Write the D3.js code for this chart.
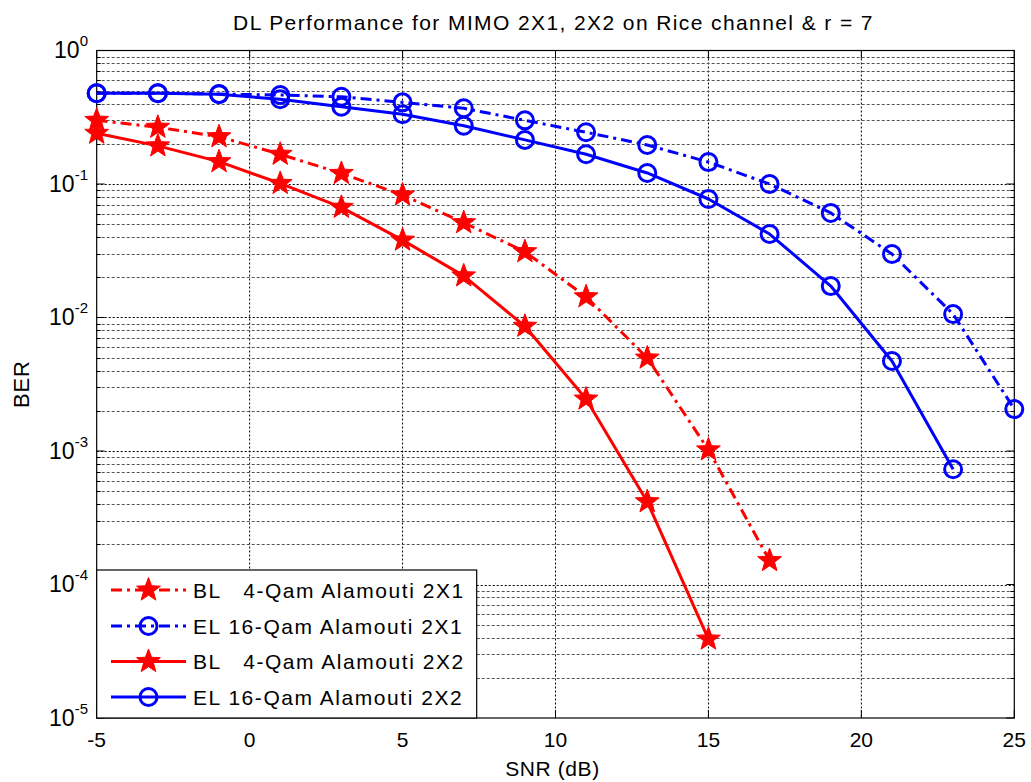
<!DOCTYPE html>
<html>
<head>
<meta charset="utf-8">
<script src="https://cdn.jsdelivr.net/npm/d3@7"></script>
<style>
  html, body { margin: 0; padding: 0; background: #fff; }
  svg { display: block; font-family: "Liberation Sans", Arial, Helvetica, sans-serif; }
  text { white-space: pre; }
</style>
</head>
<body>
<svg id="chart" width="1031" height="782"></svg>
<script>
// SNR sweep (dB)
const snr = [-5, -3, -1, 1, 3, 5, 7, 9, 11, 13, 15, 17, 19, 21, 23, 25];

// Bit error rates per scheme
const berBL_2x1 = [0.30, 0.266, 0.226, 0.167, 0.12, 0.0827, 0.0513, 0.0311, 0.0143, 0.00497, 0.00102, 0.000151];
const berEL_2x1 = [0.478, 0.478, 0.472, 0.464, 0.45, 0.409, 0.369, 0.30, 0.244, 0.196, 0.146, 0.10, 0.0607, 0.0299, 0.0106, 0.00206];
const berBL_2x2 = [0.24, 0.193, 0.147, 0.101, 0.0669, 0.038, 0.0205, 0.0086, 0.00245, 0.000417, 0.000039];
const berEL_2x2 = [0.478, 0.478, 0.47, 0.431, 0.379, 0.333, 0.273, 0.214, 0.167, 0.121, 0.0772, 0.0422, 0.0172, 0.00472, 0.00073];

const seriesNames = [
  "BL   4-Qam Alamouti 2X1",
  "EL 16-Qam Alamouti 2X1",
  "BL   4-Qam Alamouti 2X2",
  "EL 16-Qam Alamouti 2X2"
];

const xTicks = [-5, 0, 5, 10, 15, 20, 25];
const yDecades = [0, -1, -2, -3, -4, -5];

const titleText = "DL Performance for MIMO 2X1, 2X2 on Rice channel & r = 7";
const xLabel = "SNR (dB)";
const yLabel = "BER";

const series = [
  { name: seriesNames[0], y: berBL_2x1, color: "#ff0000", marker: "star", dash: true },
  { name: seriesNames[1], y: berEL_2x1, color: "#0000ff", marker: "circle", dash: true },
  { name: seriesNames[2], y: berBL_2x2, color: "#ff0000", marker: "star", dash: false },
  { name: seriesNames[3], y: berEL_2x2, color: "#0000ff", marker: "circle", dash: false }
];

const svg = d3.select("#chart");
const L = 96.7, R = 1014.3, T = 50.5, B = 718;

const x = d3.scaleLinear().domain([-5, 25]).range([L, R]);
const y = d3.scaleLog().domain([1e-5, 1]).range([B, T]);

const DASHDOT = "11,5,3,5";

// grid
const grid = svg.append("g");
grid.selectAll("line.vx").data(xTicks.slice(1, -1)).join("line")
  .attr("x1", d => x(d)).attr("x2", d => x(d)).attr("y1", T).attr("y2", B)
  .attr("stroke", "#000").attr("stroke-width", 1).attr("stroke-dasharray", "2,2");

const minorVals = [];
for (let e = -5; e < 0; e++) for (let m = 2; m <= 9; m++) minorVals.push(m * Math.pow(10, e));
grid.selectAll("line.hm").data(minorVals).join("line")
  .attr("x1", L).attr("x2", R)
  .attr("y1", d => Math.round(y(d)) + 0.5).attr("y2", d => Math.round(y(d)) + 0.5)
  .attr("stroke", "#555").attr("stroke-width", 1).attr("stroke-dasharray", "3,2");
grid.selectAll("line.hM").data(yDecades.slice(1, -1)).join("line")
  .attr("x1", L).attr("x2", R)
  .attr("y1", d => Math.round(y(Math.pow(10, d))) + 0.5).attr("y2", d => Math.round(y(Math.pow(10, d))) + 0.5)
  .attr("stroke", "#000").attr("stroke-width", 1).attr("stroke-dasharray", "2,2");

// ticks on all four sides
const ticks = svg.append("g").attr("stroke", "#000").attr("stroke-width", 1);
xTicks.forEach(v => {
  ticks.append("line").attr("x1", x(v)).attr("x2", x(v)).attr("y1", B).attr("y2", B - 8);
  ticks.append("line").attr("x1", x(v)).attr("x2", x(v)).attr("y1", T).attr("y2", T + 8);
});
yDecades.forEach(e => {
  const yy = y(Math.pow(10, e));
  ticks.append("line").attr("x1", L).attr("x2", L + 8).attr("y1", yy).attr("y2", yy);
  ticks.append("line").attr("x1", R).attr("x2", R - 8).attr("y1", yy).attr("y2", yy);
});
minorVals.forEach(v => {
  const yy = Math.round(y(v)) + 0.5;
  ticks.append("line").attr("x1", L).attr("x2", L + 4).attr("y1", yy).attr("y2", yy);
  ticks.append("line").attr("x1", R).attr("x2", R - 4).attr("y1", yy).attr("y2", yy);
});

// axes box
svg.append("rect").attr("x", L).attr("y", T).attr("width", R - L).attr("height", B - T)
  .attr("fill", "none").attr("stroke", "#000").attr("stroke-width", 1.2);

// tick labels
svg.append("g").selectAll("text").data(xTicks).join("text")
  .attr("x", d => x(d)).attr("y", 746.5).attr("text-anchor", "middle")
  .attr("font-size", 21).attr("fill", "#000").text(d => d);

const yl = svg.append("g").selectAll("text").data(yDecades).join("text")
  .attr("x", 88).attr("y", d => y(Math.pow(10, d)) + 7.5).attr("text-anchor", "end")
  .attr("font-size", 23).attr("fill", "#000");
yl.append("tspan").text("10");
yl.append("tspan").attr("dy", -12).attr("font-size", 15).text(d => String(d));

// title and axis labels
svg.append("text").attr("x", (L + R) / 2 - 2).attr("y", 30).attr("text-anchor", "middle")
  .attr("font-size", 21).attr("letter-spacing", 1.4).attr("fill", "#000").text(titleText);
svg.append("text").attr("x", (L + R) / 2 - 3).attr("y", 776).attr("text-anchor", "middle")
  .attr("font-size", 21).attr("letter-spacing", 0.6).attr("fill", "#000").text(xLabel);
svg.append("text").attr("transform", `translate(29, ${(T + B) / 2}) rotate(-90)`)
  .attr("text-anchor", "middle").attr("font-size", 22).attr("letter-spacing", 0.8)
  .attr("fill", "#000").text(yLabel);

// markers
function starPath(R0, r0) {
  const pts = [];
  for (let i = 0; i < 10; i++) {
    const a = -Math.PI / 2 + i * Math.PI / 5;
    const rr = i % 2 === 0 ? R0 : r0;
    pts.push([rr * Math.cos(a), rr * Math.sin(a)]);
  }
  return "M" + pts.map(p => p[0].toFixed(2) + "," + p[1].toFixed(2)).join("L") + "Z";
}
const STAR = starPath(12.5, 5.2);

function drawMarker(g, type, color, cx, cy) {
  if (type === "star") {
    g.append("path").attr("d", STAR).attr("transform", `translate(${cx},${cy})`)
      .attr("fill", color).attr("stroke", color).attr("stroke-width", 1);
  } else {
    g.append("circle").attr("cx", cx).attr("cy", cy).attr("r", 8.5)
      .attr("fill", "none").attr("stroke", color).attr("stroke-width", 3);
  }
}

const line = d3.line().x(d => x(d[0])).y(d => y(d[1]));
const plot = svg.append("g");
series.forEach(s => {
  const pts = s.y.map((v, i) => [snr[i], v]);
  const g = plot.append("g");
  g.append("path").datum(pts).attr("d", line)
    .attr("fill", "none").attr("stroke", s.color).attr("stroke-width", 3)
    .attr("stroke-linejoin", "round")
    .attr("stroke-dasharray", s.dash ? DASHDOT : null);
  pts.forEach(p => drawMarker(g, s.marker, s.color, x(p[0]), y(p[1])));
});

// legend
const lg = svg.append("g");
lg.append("rect").attr("x", L).attr("y", 570).attr("width", 476.7 - L).attr("height", B - 570)
  .attr("fill", "#fff").attr("stroke", "#000").attr("stroke-width", 1.2);
const rowY = [590, 626, 661.5, 697];
series.forEach((s, i) => {
  const yy = rowY[i];
  lg.append("line").attr("x1", 111).attr("x2", 186).attr("y1", yy).attr("y2", yy)
    .attr("stroke", s.color).attr("stroke-width", 3)
    .attr("stroke-dasharray", s.dash ? DASHDOT : null);
  drawMarker(lg, s.marker, s.color, 148.5, yy);
  lg.append("text").attr("x", 193).attr("y", yy + 7.5).attr("font-size", 21)
    .attr("letter-spacing", 1.55).attr("fill", "#000").text(s.name);
});
</script>
</body>
</html>
